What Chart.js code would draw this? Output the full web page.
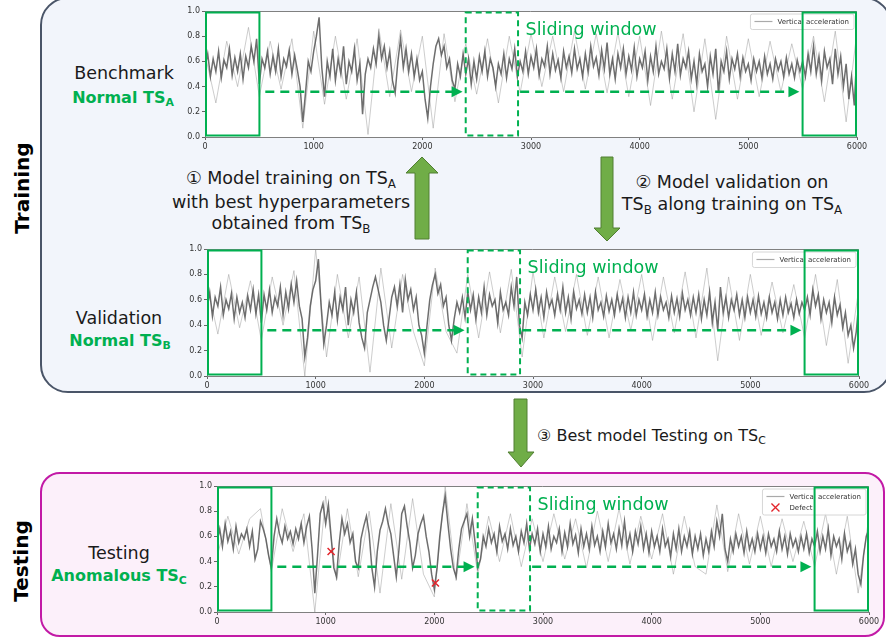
<!DOCTYPE html>
<html>
<head>
<meta charset="utf-8">
<script src="https://cdn.jsdelivr.net/npm/chart.js"></script>
<style>
body{margin:0;width:886px;height:643px;overflow:hidden;background:#fff;position:relative;font-family:"DejaVu Sans",sans-serif;}
.box{position:absolute;box-sizing:border-box;}
#trainBox{left:40px;top:-3px;width:852px;height:396px;border:2px solid #4a5568;border-radius:28px;background:#f2f5fb;}
#testBox{left:40px;top:472px;width:845px;height:165px;border:2px solid #c21aa6;border-radius:20px;background:#fcf0fa;}
.t{position:absolute;white-space:nowrap;line-height:1;color:#1a1a1a;font-size:17.5px;}
.c{transform:translateX(-50%);text-align:center;}
.g{color:#00b050;font-weight:bold;font-size:16px;}
.s{font-size:0.68em;position:relative;top:0.3em;}
.rot{font-weight:bold;font-size:20px;color:#000;transform:translate(-50%,-50%) rotate(-90deg);}
canvas{position:absolute;}
svg{position:absolute;left:0;top:0;}
</style>
</head>
<body>
<div class="box" id="trainBox"></div>
<div class="box" id="testBox"></div>

<div class="t rot" style="left:22px;top:188px;">Training</div>
<div class="t rot" style="left:21px;top:561px;">Testing</div>

<div class="t c" style="left:124px;top:65px;">Benchmark</div>
<div class="t c g" style="left:123px;top:90px;">Normal TS<span class="s">A</span></div>
<div class="t c" style="left:119px;top:310px;">Validation</div>
<div class="t c g" style="left:120px;top:333px;">Normal TS<span class="s">B</span></div>
<div class="t c" style="left:119px;top:545px;">Testing</div>
<div class="t c g" style="left:119px;top:568px;">Anomalous TS<span class="s">C</span></div>

<div class="t c" style="left:291px;top:168px;line-height:21.5px;">① Model training on TS<span class="s">A</span><br>with best hyperparameters<br>obtained from TS<span class="s">B</span></div>
<div class="t c" style="left:732px;top:171px;line-height:22px;">② Model validation on<br>TS<span class="s">B</span> along training on TS<span class="s">A</span></div>
<div class="t" style="left:537px;top:428px;font-size:16px;">③ Best model Testing on TS<span class="s">C</span></div>

<canvas id="chartA" width="708" height="154" style="left:165px;top:3px;"></canvas>
<canvas id="chartB" width="708" height="155" style="left:167px;top:241px;"></canvas>
<canvas id="chartC" width="708" height="154" style="left:177px;top:478px;"></canvas>

<svg width="886" height="643">
  <polygon points="415,239 415,173 406,173 422,157 438,173 429,173 429,239" fill="#70ad47" stroke="#507e32" stroke-width="1"/>
  <polygon points="601,157 601,228 594,228 607,241 620,228 613,228 613,157" fill="#70ad47" stroke="#507e32" stroke-width="1"/>
  <polygon points="514,399 514,452 508,452 521,467 534,452 527,452 527,399" fill="#70ad47" stroke="#507e32" stroke-width="1"/>
</svg>

<script>
// sample spacing of the traced signal and of its outlier spikes
const coreStep = 25;
const spikeStep = 100;

// Benchmark TS_A (one row = 500 samples)
const coreA = [
  0.55,0.66,0.48,0.62,0.52,0.68,0.47,0.61,0.55,0.70,0.49,0.63,0.52,0.66,0.46,0.64,0.55,0.72,0.60,0.78,
  0.42,0.62,0.55,0.68,0.50,0.64,0.52,0.70,0.48,0.62,0.56,0.69,0.50,0.65,0.53,0.40,0.12,0.35,0.60,0.52,
  0.68,0.80,0.95,0.55,0.32,0.60,0.48,0.70,0.45,0.62,0.50,0.72,0.42,0.60,0.52,0.70,0.45,0.58,0.18,0.50,
  0.62,0.55,0.70,0.58,0.80,0.62,0.72,0.55,0.68,0.45,0.35,0.60,0.78,0.55,0.70,0.52,0.66,0.48,0.62,0.45,
  0.52,0.30,0.15,0.40,0.58,0.72,0.78,0.65,0.72,0.55,0.62,0.45,0.38,0.58,0.48,0.66,0.50,0.62,0.42,0.60,
  0.46,0.64,0.52,0.68,0.48,0.62,0.55,0.40,0.58,0.50,0.66,0.47,0.62,0.54,0.70,0.48,0.60,0.52,0.68,0.50,
  0.64,0.55,0.70,0.49,0.62,0.56,0.72,0.50,0.66,0.53,0.61,0.47,0.68,0.55,0.64,0.51,0.70,0.54,0.62,0.48,
  0.66,0.52,0.72,0.56,0.63,0.49,0.69,0.54,0.75,0.50,0.62,0.46,0.66,0.55,0.70,0.50,0.64,0.53,0.71,0.48,
  0.62,0.55,0.68,0.45,0.64,0.52,0.72,0.50,0.60,0.54,0.70,0.47,0.66,0.52,0.74,0.49,0.62,0.55,0.68,0.46,
  0.60,0.42,0.66,0.52,0.58,0.40,0.64,0.50,0.70,0.35,0.60,0.52,0.68,0.46,0.62,0.54,0.66,0.48,0.63,0.52,
  0.58,0.45,0.62,0.52,0.60,0.47,0.64,0.50,0.58,0.46,0.62,0.53,0.60,0.48,0.63,0.50,0.58,0.47,0.61,0.52,
  0.60,0.48,0.66,0.52,0.72,0.50,0.64,0.45,0.68,0.55,0.62,0.42,0.70,0.50,0.64,0.40,0.58,0.30,0.48,0.25,
  0.70];
const spikeA = [0.66,0.27,0.76,0.40,0.87,0.32,0.76,0.38,0.78,0.07,0.84,0.26,0.80,0.30,0.78,0.02,0.86,0.32,0.85,0.36,
  0.80,0.07,0.82,0.28,0.74,0.34,0.78,0.27,0.80,0.35,0.82,0.40,0.80,0.36,0.84,0.38,0.82,0.35,0.83,0.32,
  0.80,0.25,0.84,0.30,0.82,0.20,0.78,0.14,0.80,0.30,0.78,0.32,0.76,0.36,0.74,0.38,0.80,0.28,0.84,0.12,0.84];

// Validation TS_B
const coreB = [
  0.52,0.66,0.47,0.62,0.55,0.70,0.48,0.60,0.53,0.65,0.45,0.62,0.50,0.58,0.46,0.63,0.52,0.68,0.49,0.64,
  0.42,0.64,0.52,0.68,0.50,0.62,0.55,0.70,0.48,0.66,0.53,0.72,0.58,0.75,0.55,0.45,0.15,0.30,0.55,0.68,
  0.75,0.92,0.55,0.25,0.40,0.58,0.48,0.66,0.44,0.62,0.52,0.70,0.40,0.60,0.50,0.66,0.42,0.30,0.22,0.50,
  0.60,0.70,0.78,0.68,0.58,0.40,0.28,0.45,0.62,0.70,0.55,0.72,0.50,0.76,0.60,0.68,0.52,0.62,0.40,0.32,
  0.18,0.40,0.60,0.72,0.80,0.65,0.72,0.55,0.62,0.40,0.28,0.45,0.58,0.50,0.62,0.46,0.66,0.52,0.64,0.45,
  0.62,0.50,0.70,0.48,0.64,0.55,0.60,0.42,0.66,0.52,0.58,0.48,0.70,0.55,0.78,0.40,0.30,0.58,0.48,0.64,
  0.52,0.68,0.50,0.62,0.46,0.66,0.54,0.60,0.48,0.64,0.52,0.70,0.50,0.62,0.45,0.66,0.53,0.60,0.49,0.64,
  0.50,0.62,0.46,0.66,0.52,0.58,0.47,0.63,0.51,0.60,0.48,0.64,0.52,0.61,0.46,0.62,0.50,0.66,0.48,0.60,
  0.52,0.64,0.47,0.60,0.50,0.66,0.48,0.62,0.52,0.58,0.46,0.63,0.50,0.61,0.47,0.65,0.52,0.60,0.48,0.62,
  0.50,0.64,0.45,0.60,0.48,0.66,0.42,0.58,0.36,0.70,0.50,0.62,0.46,0.60,0.52,0.64,0.48,0.60,0.46,0.62,
  0.50,0.60,0.47,0.63,0.49,0.58,0.46,0.62,0.50,0.58,0.45,0.60,0.48,0.62,0.50,0.57,0.46,0.60,0.49,0.58,
  0.52,0.62,0.48,0.68,0.55,0.64,0.45,0.60,0.50,0.58,0.42,0.62,0.48,0.56,0.38,0.50,0.32,0.40,0.22,0.35,
  0.60];
const spikeB = [0.72,0.33,0.80,0.38,0.75,0.28,0.78,0.40,0.83,0.00,1.00,0.15,0.80,0.30,0.78,0.03,0.85,0.22,0.80,0.35,
  0.08,0.85,0.35,0.18,0.80,0.30,0.82,0.34,0.84,0.15,0.82,0.30,0.78,0.35,0.80,0.32,0.78,0.30,0.76,0.36,
  0.80,0.28,0.78,0.34,0.82,0.30,0.85,0.12,0.78,0.28,0.80,0.32,0.74,0.34,0.72,0.30,0.80,0.24,0.76,0.10,0.70];

// Testing TS_C
const coreC = [
  0.55,0.66,0.52,0.70,0.56,0.64,0.50,0.68,0.55,0.62,0.58,0.66,0.52,0.64,0.42,0.50,0.72,0.66,0.58,0.45,
  0.35,0.60,0.74,0.62,0.55,0.68,0.58,0.64,0.54,0.66,0.58,0.70,0.55,0.68,0.76,0.50,0.15,0.45,0.78,0.86,
  0.70,0.85,0.60,0.35,0.28,0.55,0.74,0.62,0.70,0.55,0.62,0.40,0.35,0.58,0.68,0.76,0.62,0.35,0.20,0.48,
  0.65,0.72,0.82,0.70,0.62,0.45,0.28,0.50,0.78,0.84,0.68,0.55,0.35,0.45,0.62,0.70,0.76,0.60,0.48,0.30,
  0.18,0.35,0.60,0.78,0.92,0.70,0.50,0.35,0.28,0.50,0.66,0.72,0.78,0.60,0.74,0.55,0.35,0.42,0.60,0.52,
  0.66,0.55,0.62,0.48,0.68,0.56,0.62,0.50,0.66,0.53,0.60,0.48,0.64,0.55,0.70,0.50,0.62,0.54,0.66,0.48,
  0.62,0.52,0.68,0.50,0.60,0.55,0.66,0.48,0.63,0.52,0.70,0.54,0.61,0.47,0.66,0.52,0.62,0.50,0.68,0.53,
  0.60,0.48,0.64,0.52,0.70,0.55,0.62,0.50,0.66,0.53,0.72,0.52,0.62,0.48,0.64,0.54,0.68,0.50,0.62,0.47,
  0.64,0.52,0.60,0.48,0.66,0.52,0.58,0.44,0.62,0.50,0.66,0.48,0.60,0.52,0.64,0.46,0.60,0.50,0.62,0.45,
  0.58,0.48,0.64,0.52,0.72,0.60,0.78,0.50,0.40,0.58,0.48,0.62,0.52,0.60,0.47,0.64,0.50,0.58,0.48,0.62,
  0.50,0.60,0.47,0.62,0.52,0.58,0.48,0.64,0.50,0.60,0.46,0.62,0.52,0.58,0.48,0.60,0.50,0.62,0.47,0.58,
  0.52,0.64,0.48,0.60,0.50,0.66,0.45,0.60,0.52,0.58,0.42,0.62,0.48,0.55,0.38,0.50,0.30,0.22,0.45,0.60,
  0.66];
const spikeC = [0.44,0.76,0.46,0.74,0.82,0.32,0.82,0.48,0.78,0.00,0.92,0.25,0.82,0.28,0.80,0.15,0.86,0.26,0.90,0.30,
  0.12,1.00,0.25,0.86,0.30,0.76,0.40,0.78,0.36,0.74,0.40,0.78,0.42,0.74,0.35,0.80,0.40,0.82,0.38,0.76,
  0.42,0.78,0.30,0.76,0.36,0.30,0.85,0.32,0.78,0.38,0.76,0.36,0.74,0.40,0.72,0.36,0.78,0.30,0.76,0.15,0.76];
const defectX = [1050, 2010];
const defectY = [0.48, 0.23];

// sliding-window annotation (data units)
const winFrom = [0, 2390, 5490];
const winTo = [510, 2890, 6000];
const winDashed = [false, true, false];
const arrowFrom = [555, 2900];
const arrowTo = [2370, 5470];
const arrowY = 0.36;

const GREEN = '#00b050';

function overlay(withDefect){
  return {
    id:'overlay',
    beforeDraw(c){
      const a=c.chartArea, ctx=c.ctx;
      ctx.save(); ctx.fillStyle='#fff'; ctx.fillRect(a.left,a.top,a.width,a.height); ctx.restore();
    },
    afterDatasetsDraw(c){
      const {ctx, chartArea:a, scales:{x,y}} = c;
      ctx.save();
      // top/right spines
      ctx.strokeStyle='#808080'; ctx.lineWidth=1; ctx.setLineDash([]);
      ctx.beginPath(); ctx.moveTo(a.left, a.top+0.5); ctx.lineTo(a.right-0.5, a.top+0.5); ctx.lineTo(a.right-0.5, a.bottom); ctx.stroke();

      // legend
      const labels = withDefect ? ['Vertical acceleration','Defect'] : ['Vertical acceleration'];
      ctx.font='7px "DejaVu Sans"';
      const tw = Math.max(...labels.map(l=>ctx.measureText(l).width));
      const bw = tw+32, bh = 5+labels.length*10.5;
      const bx = a.right-3-bw, by = a.top+3;
      ctx.beginPath(); ctx.roundRect(bx,by,bw,bh,2);
      ctx.fillStyle='rgba(255,255,255,0.85)'; ctx.fill();
      ctx.strokeStyle='#d6d6d6'; ctx.stroke();
      labels.forEach((l,i)=>{
        const ly = by+7.5+i*11;
        if(i===0){
          ctx.strokeStyle='#aaa'; ctx.lineWidth=1.2;
          ctx.beginPath(); ctx.moveTo(bx+4,ly); ctx.lineTo(bx+22,ly); ctx.stroke();
        } else {
          ctx.strokeStyle='#e3242b'; ctx.lineWidth=1.3;
          ctx.beginPath(); ctx.moveTo(bx+9,ly-4); ctx.lineTo(bx+17,ly+4); ctx.moveTo(bx+17,ly-4); ctx.lineTo(bx+9,ly+4); ctx.stroke();
        }
        ctx.fillStyle='#333'; ctx.textBaseline='middle';
        ctx.fillText(l, bx+27, ly+0.5);
      });

      // window boxes
      ctx.strokeStyle=GREEN; ctx.lineWidth=2;
      winFrom.forEach((f,i)=>{
        const x0=x.getPixelForValue(f), x1=x.getPixelForValue(winTo[i]);
        ctx.setLineDash(winDashed[i]?[6,4]:[]);
        ctx.strokeRect(x0+1, a.top+1.5, x1-x0-2, a.height-3);
      });

      // dashed arrows
      const yy = y.getPixelForValue(arrowY);
      ctx.lineWidth=2.5; ctx.fillStyle=GREEN;
      arrowFrom.forEach((f,i)=>{
        const x0=x.getPixelForValue(f), x1=x.getPixelForValue(arrowTo[i]);
        ctx.setLineDash([9,6]);
        ctx.beginPath(); ctx.moveTo(x0,yy); ctx.lineTo(x1-9,yy); ctx.stroke();
        ctx.setLineDash([]);
        ctx.beginPath(); ctx.moveTo(x1,yy); ctx.lineTo(x1-11,yy-5.5); ctx.lineTo(x1-11,yy+5.5); ctx.closePath(); ctx.fill();
      });

      // label
      ctx.font='17.5px "DejaVu Sans"'; ctx.textBaseline='alphabetic'; ctx.fillStyle=GREEN;
      ctx.fillText('Sliding window', x.getPixelForValue(2950), y.getPixelForValue(0.81));
      ctx.restore();
    }
  };
}

function drawChart(id, core, spike, withDefect){
  const datasets=[];
  if(withDefect){
    datasets.push({label:'Defect', data:defectX.map((v,i)=>({x:v,y:defectY[i]})), showLine:false,
      pointStyle:'crossRot', pointRadius:5, borderColor:'#e3242b', backgroundColor:'#e3242b', borderWidth:1.5});
  }
  datasets.push({label:'Vertical acceleration', data:core.map((v,i)=>({x:i*coreStep,y:v})),
    borderColor:'rgba(78,78,78,0.82)', borderWidth:1.5, pointRadius:0, tension:0});
  datasets.push({label:'spread', data:spike.map((v,i)=>({x:i*spikeStep,y:v})),
    borderColor:'rgba(150,150,150,0.6)', borderWidth:0.8, pointRadius:0, tension:0});

  const tickFont={size:8, family:'DejaVu Sans'};
  new Chart(document.getElementById(id), {
    type:'line',
    data:{datasets},
    options:{
      responsive:false, animation:false, devicePixelRatio:1,
      layout:{padding:{top:8,right:16,left:0,bottom:0}},
      plugins:{legend:{display:false}, tooltip:{enabled:false}},
      scales:{
        x:{type:'linear', min:0, max:6000, afterFit(s){s.height=20;},
          ticks:{stepSize:1000, font:tickFont, color:'#333', maxRotation:0, padding:2, callback:v=>String(v)},
          grid:{drawOnChartArea:false, tickLength:3, color:'#666'}, border:{color:'#808080'}},
        y:{min:0, max:1, afterFit(s){s.width=40;},
          ticks:{stepSize:0.2, font:tickFont, color:'#333', padding:2, callback:v=>v.toFixed(1)},
          grid:{drawOnChartArea:false, tickLength:3, color:'#666'}, border:{color:'#808080'}}
      }
    },
    plugins:[overlay(withDefect)]
  });
}

drawChart('chartA', coreA, spikeA, false);
drawChart('chartB', coreB, spikeB, false);
drawChart('chartC', coreC, spikeC, true);
</script>
</body>
</html>
